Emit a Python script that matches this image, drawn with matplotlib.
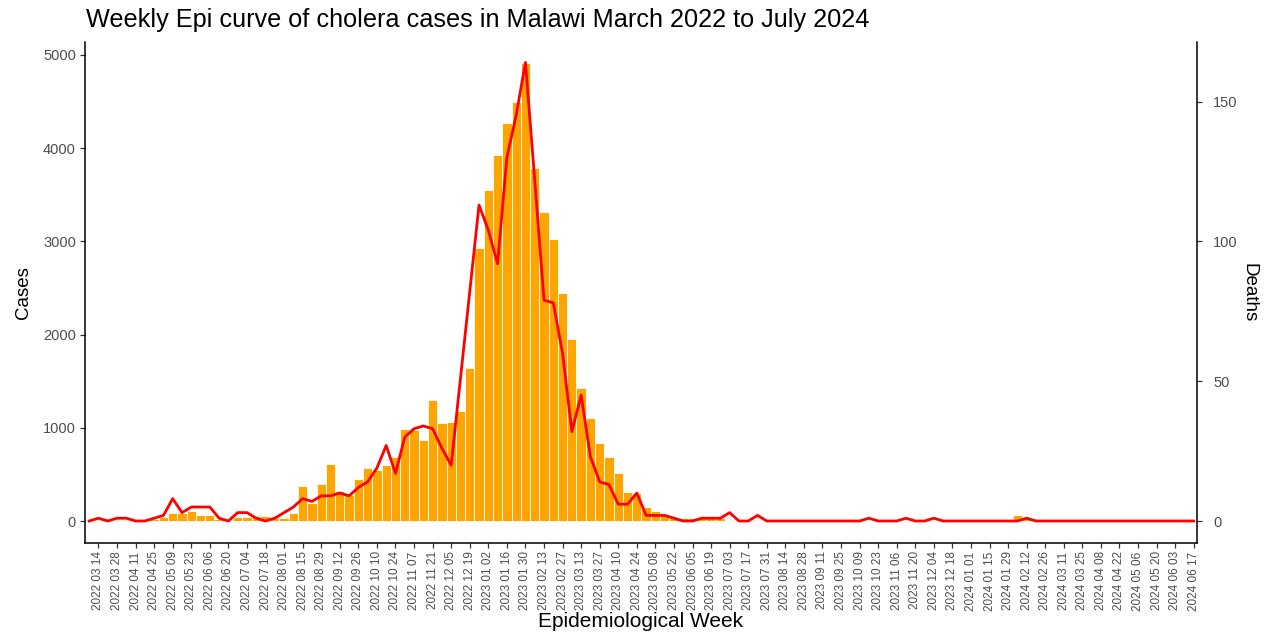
import matplotlib
matplotlib.use("Agg")
import matplotlib.pyplot as plt
import pandas as pd
import numpy as np

plt.rcParams['font.family'] = ['Liberation Sans', 'DejaVu Sans']

# Weekly surveillance counts, first week starting 2022-03-07
start_week = "2022-03-07"
n_weeks = 120

cases = [
    5, 10, 15, 10, 10, 5, 10, 18, 40, 82,
    82, 111, 64, 64, 21, 11, 46, 46, 54, 54,
    36, 29, 85, 376, 190, 397, 610, 322, 279, 447,
    572, 547, 601, 690, 987, 975, 869, 1298, 1048, 1066,
    1177, 1638, 2926, 3552, 3927, 4274, 4499, 4911, 3791, 3319,
    3026, 2450, 1953, 1428, 1109, 836, 683, 512, 315, 297,
    145, 104, 68, 46, 32, 30, 46, 36, 28, 11,
    5, 5, 11, 3, 2, 2, 1, 1, 2, 1,
    1, 2, 1, 1, 3, 1, 1, 2, 3, 1,
    2, 3, 1, 1, 1, 1, 2, 1, 3, 5,
    60, 40, 20, 3, 2, 1, 1, 4, 1, 1,
    0, 1, 0, 1, 0, 0, 1, 0, 0, 0,
]

deaths = [
    0, 1, 0, 1, 1, 0, 0, 1, 2, 8,
    3, 5, 5, 5, 1, 0, 3, 3, 1, 0,
    1, 3, 5, 8, 7, 9, 9, 10, 9, 12,
    14, 19, 27, 17, 30, 33, 34, 33, 26, 20,
    51, 82, 113, 104, 92, 130, 145, 164, 122, 79,
    78, 60, 32, 45, 23, 14, 13, 6, 6, 10,
    2, 2, 2, 1, 0, 0, 1, 1, 1, 3,
    0, 0, 2, 0, 0, 0, 0, 0, 0, 0,
    0, 0, 0, 0, 1, 0, 0, 0, 1, 0,
    0, 1, 0, 0, 0, 0, 0, 0, 0, 0,
    0, 1, 0, 0, 0, 0, 0, 0, 0, 0,
    0, 0, 0, 0, 0, 0, 0, 0, 0, 0,
]

case_ticks = [0, 1000, 2000, 3000, 4000, 5000]
death_ticks = [0, 50, 100, 150]
scale = 30  # deaths drawn on the case axis as deaths * 30

weeks = pd.date_range(start_week, periods=n_weeks, freq="7D")
x = np.arange(n_weeks)
tick_pos = x[1::2]
tick_labels = [d.strftime("%Y %m %d") for d in weeks[1::2]]

W, H = 1273, 632
fig = plt.figure(figsize=(W / 100, H / 100), dpi=100)
ax = fig.add_axes([85 / W, 89 / H, 1112 / W, 501 / H])

ax.bar(x, cases, width=1.0, color="#FFA500", edgecolor="white", linewidth=0.6, zorder=2)

ylo, yhi = -236, 5139
ax.set_ylim(ylo, yhi)
ax.set_xlim(-0.45, 119.35)

ax2 = ax.twinx()
ax2.plot(x, deaths, color="#FF0000", linewidth=2.0, zorder=3)
ax2.set_ylim(ylo / scale, yhi / scale)

for a in (ax, ax2):
    for s in a.spines.values():
        s.set_linewidth(1.1)
        s.set_color("black")
    a.spines["top"].set_visible(False)
    a.set_facecolor("none")
ax.spines["right"].set_visible(False)
ax2.spines["left"].set_visible(False)
ax2.spines["bottom"].set_visible(False)

ax.set_yticks(case_ticks)
ax.set_yticklabels([str(v) for v in case_ticks])
ax2.set_yticks(death_ticks)
ax2.set_yticklabels([str(v) for v in death_ticks])
ax.set_xticks(tick_pos)
ax.set_xticklabels(tick_labels, rotation=90, fontsize=8.5, color="#4D4D4D")

ax.tick_params(axis="y", length=3.5, width=0.9, color="#333333", labelsize=10.5, labelcolor="#4D4D4D", pad=3)
ax2.tick_params(axis="y", length=3.5, width=0.9, color="#333333", labelsize=10.5, labelcolor="#4D4D4D", pad=8)
ax.tick_params(axis="x", length=3.5, width=0.9, color="#333333", pad=2.5)

ax.set_ylabel("Cases", fontsize=13.5, labelpad=8)
ax2.set_ylabel("Deaths", fontsize=13.5, rotation=-90, labelpad=14)
ax.set_xlabel("Epidemiological Week", fontsize=15, labelpad=1)

fig.text(86 / W, 1 - 20 / H, "Weekly Epi curve of cholera cases in Malawi March 2022 to July 2024",
         fontsize=18.2, ha="left", va="center")

fig.savefig("out.png", dpi=100)
